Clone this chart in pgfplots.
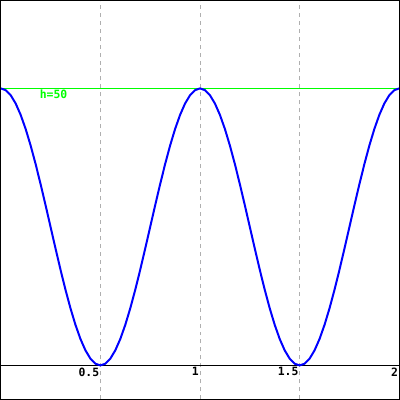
\documentclass[border=0pt]{standalone}
\usepackage{pgfplots}
\pgfplotsset{compat=1.18}
\usepackage{fontspec}
\setmonofont{DejaVu Sans Mono}
\begin{document}
\begin{tikzpicture}
\begin{axis}[
  width=400bp, height=400bp, scale only axis,
  xmin=0, xmax=2, ymin=-6.11, ymax=65.83,
  axis x line=middle, axis y line=none,
  axis line style={-, black, line width=1bp},
  xtick={0.5,1,1.5,2},
  xticklabels={\texttt{\textbf{0.5}},\texttt{\textbf{1}},\texttt{\textbf{1.5}},\texttt{\textbf{2}}},
  xticklabel style={anchor=north east, inner sep=1bp, yshift=-1bp, font=\fontsize{11.5}{12}\selectfont},
  ytick=\empty,
  major tick length=0pt,
  xmajorgrids,
  major grid style={color={rgb,255:red,175;green,175;blue,175}, dash pattern=on 4bp off 4bp, line width=1bp},
  clip=true,
  after end axis/.code={\draw[black, line width=1.5bp] (rel axis cs:0,0) rectangle (rel axis cs:1,1);},
]
\addplot[color={rgb,255:red,0;green,255;blue,0}, line width=1bp] coordinates {(0,50) (2,50)};
\addplot[color={rgb,255:red,0;green,0;blue,255}, line width=2bp] coordinates {
(0,50) (0.025,49.692) (0.05,48.776) (0.075,47.275) (0.1,45.225) (0.125,42.678) (0.15,39.695) (0.175,36.350) (0.2,32.725) (0.225,28.911)
(0.25,25) (0.275,21.089) (0.3,17.275) (0.325,13.650) (0.35,10.305) (0.375,7.322) (0.4,4.775) (0.425,2.725) (0.45,1.224) (0.475,0.308)
(0.5,0) (0.525,0.308) (0.55,1.224) (0.575,2.725) (0.6,4.775) (0.625,7.322) (0.65,10.305) (0.675,13.650) (0.7,17.275) (0.725,21.089)
(0.75,25) (0.775,28.911) (0.8,32.725) (0.825,36.350) (0.85,39.695) (0.875,42.678) (0.9,45.225) (0.925,47.275) (0.95,48.776) (0.975,49.692)
(1,50) (1.025,49.692) (1.05,48.776) (1.075,47.275) (1.1,45.225) (1.125,42.678) (1.15,39.695) (1.175,36.350) (1.2,32.725) (1.225,28.911)
(1.25,25) (1.275,21.089) (1.3,17.275) (1.325,13.650) (1.35,10.305) (1.375,7.322) (1.4,4.775) (1.425,2.725) (1.45,1.224) (1.475,0.308)
(1.5,0) (1.525,0.308) (1.55,1.224) (1.575,2.725) (1.6,4.775) (1.625,7.322) (1.65,10.305) (1.675,13.650) (1.7,17.275) (1.725,21.089)
(1.75,25) (1.775,28.911) (1.8,32.725) (1.825,36.350) (1.85,39.695) (1.875,42.678) (1.9,45.225) (1.925,47.275) (1.95,48.776) (1.975,49.692)
(2,50)};
\node[anchor=north west, inner sep=1bp, text={rgb,255:red,0;green,255;blue,0}, font=\fontsize{11.5}{12}\selectfont\ttfamily\bfseries] at (axis cs:0.19,50) {h=50};
\end{axis}
\end{tikzpicture}
\end{document}
